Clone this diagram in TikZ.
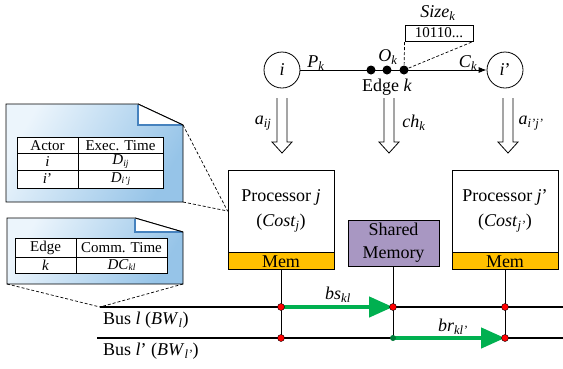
\documentclass[tikz,border=0pt]{standalone}
\usepackage{fontspec}
\setmainfont{Liberation Serif}
\usetikzlibrary{arrows.meta}
\definecolor{memc}{RGB}{255,192,0}
\definecolor{shmc}{RGB}{168,151,194}
\definecolor{grn}{RGB}{0,176,80}
\definecolor{cl}{RGB}{236,245,252}
\definecolor{cd}{RGB}{150,196,232}
\definecolor{cb}{RGB}{70,130,190}
\newcommand\sbs[1]{\textsubscript{\itshape #1}}
\newcommand\tsbs[1]{\raisebox{-0.12em}{\fontsize{9.5}{9.5}\selectfont\itshape #1}}
\begin{document}
\begin{tikzpicture}[x=1pt,y=-1pt,
  txt/.style={font=\fontsize{18}{23}\selectfont, inner sep=0pt},
  tab/.style={font=\fontsize{15}{16}\selectfont, inner sep=0pt},
  actor/.style={circle, draw, minimum size=36pt, inner sep=0pt, line width=0.8pt, font=\fontsize{18}{20}\selectfont},
  edot/.style={circle, fill=black, minimum size=9pt, inner sep=0pt},
  rdot/.style={circle, fill=red, draw=black, line width=0.4pt, minimum size=7pt, inner sep=0pt},
  busline/.style={line width=2pt},
  garrow/.style={draw=grn, line width=4.5pt, -{Triangle[length=24pt,width=20pt]}},
  dashl/.style={line width=0.7pt, dash pattern=on 3pt off 2pt},
  procbox/.style={draw, line width=0.9pt, minimum width=106pt, minimum height=82pt, inner sep=0pt, align=center, font=\fontsize{18}{25}\selectfont},
  membox/.style={draw, fill=memc, line width=0.9pt, minimum width=106pt, minimum height=17pt, inner sep=0pt, font=\fontsize{18}{20}\selectfont},
  callout/.style={draw, line width=0.9pt, left color=cl, right color=cd, shading angle=60},
  fold/.style={fill=white},
  tabline/.style={line width=0.9pt}
]
\useasboundingbox (0,0) rectangle (563,368);

% ---------- top graph ----------
\node[actor] (ni) at (282,70) {\textit{i}};
\node[actor] (nj) at (505,70) {\textit{i}’};
\draw[line width=0.8pt, -{Latex[length=8pt,width=6pt]}] (ni) -- (nj);
\node[edot] (d1) at (371,70) {};
\node[edot] (d2) at (387,70) {};
\node[edot] (d3) at (404,70) {};
\node[draw, line width=0.8pt, fill=white, minimum width=68pt, minimum height=16pt, inner sep=0pt, font=\fontsize{15}{16}\selectfont] (sz) at (439,33) {10110...};
\draw[dashl] (d3.center) -- (sz.south west);
\draw[dashl] (d3.center) -- (sz.south east);
\node[txt] (lsz) at (438,13) {\textit{Size}\sbs{k}};
\node[txt] (lp) at (316,63) {\textit{P}\sbs{k}};
\node[txt] (lo) at (388,57) {\textit{O}\sbs{k}};
\node[txt] (lc) at (468,63) {\textit{C}\sbs{k}};
\node[txt] (le) at (387,87) {Edge \textit{k}};

% ---------- hollow arrows ----------
\foreach \x in {282,389,508} {
  \draw[line width=0.8pt, fill=white] (\x-5,98) -- (\x-5,142) -- (\x-10,142) -- (\x,153) -- (\x+10,142) -- (\x+5,142) -- (\x+5,98);
}
\node[txt] (la1) at (263,123) {\textit{a}\sbs{ij}};
\node[txt] (la2) at (414,123) {\textit{ch}\sbs{k}};
\node[txt] (la3) at (531,123) {\textit{a}\sbs{i’j’}};

% ---------- processors ----------
\node[procbox] (pj) at (281,211) {Processor \textit{j}\\(\textit{Cost}\sbs{j})};
\node[membox, anchor=north] (mj) at (pj.south) {Mem};
\node[procbox] (pk) at (505,211) {Processor \textit{j}’\\(\textit{Cost}\sbs{j’})};
\node[membox, anchor=north] (mk) at (pk.south) {Mem};
\node[draw, fill=shmc, line width=0.9pt, minimum width=91pt, minimum height=46pt, inner sep=0pt, align=center, font=\fontsize{18}{23}\selectfont] (sm) at (393.5,243) {Shared\\Memory};

% ---------- buses ----------
\coordinate (bl0) at (100,307);
\coordinate (bl1) at (563,307);
\coordinate (bm0) at (97,338);
\coordinate (bm1) at (563,338);
\draw[busline] (bl0) -- (bl1);
\draw[busline] (bm0) -- (bm1);
\coordinate (r1) at (281,307);
\coordinate (r2) at (393,307);
\coordinate (r3) at (505,307);
\coordinate (r4) at (281,338);
\coordinate (r5) at (393,338);
\coordinate (r6) at (505,338);
\draw[line width=0.8pt] (mj.south) -- (r4);
\draw[line width=0.8pt] (sm.south -| r5) -- (r5);
\draw[line width=0.8pt] (mk.south) -- (r6);
\draw[garrow] (r1) -- (r2);
\draw[garrow] (r5) -- (r6);
\node[rdot] (rd1) at (r1) {};
\node[rdot] (rd2) at (r2) {};
\node[rdot] (rd3) at (r3) {};
\node[rdot] (rd4) at (r4) {};
\node[circle, fill=grn!70!black, minimum size=6pt, inner sep=0pt] (rd5) at (r5) {};
\node[rdot] (rd6) at (r6) {};
\node[txt] (lbs) at (338,295) {\textit{bs}\sbs{kl}};
\node[txt] (lbr) at (453,327) {\textit{br}\sbs{kl’}};
\node[txt, anchor=west] (lbus1) at (103,320) {Bus \textit{l} (\textit{BW}\sbs{l})};
\node[txt, anchor=west] (lbus2) at (103,351) {Bus \textit{l}’ (\textit{BW}\sbs{l’})};

% ---------- callout 1 ----------
\path[callout] (6,104) -- (138,104) -- (183,125) -- (183,202) -- (6,202) -- cycle;
\fill[fold] (138,104) -- (183,125) -- (138,125) -- cycle;
\draw[cb, line width=2pt] (138,105) -- (138,125) -- (182,125);
\draw[line width=0.9pt] (138,104) -- (183,125);
\coordinate (c1a) at (183,125);
\coordinate (c1b) at (183,202);
\draw[dashl] (c1a) -- (pj.west);
\draw[dashl] (c1b) -- (pj.west);
\fill[white] (17,137) rectangle (163,188);
\draw[tabline] (17,137) rectangle (163,188);
\draw[tabline] (17,153) -- (163,153) (17,170) -- (163,170) (78,137) -- (78,188);
\node[tab] (t11) at (47.5,145.5) {Actor};
\node[tab] (t12) at (120.5,145.5) {Exec. Time};
\node[tab] (t21) at (47.5,161.5) {\textit{i}};
\node[tab] (t22) at (120.5,161.5) {\textit{D}\tsbs{ij}};
\node[tab] (t31) at (47.5,179) {\textit{i}’};
\node[tab] (t32) at (120.5,179) {\textit{D}\tsbs{i’j}};

% ---------- callout 2 ----------
\path[callout] (7,218) -- (135,218) -- (183,232) -- (183,284) -- (7,284) -- cycle;
\fill[fold] (135,218) -- (183,232) -- (135,232) -- cycle;
\draw[cb, line width=2pt] (135,219) -- (135,232) -- (182,232);
\draw[line width=0.9pt] (135,218) -- (183,232);
\coordinate (c2a) at (7,284);
\coordinate (c2b) at (183,284);
\draw[dashl] (c2a) -- (bl0);
\draw[dashl] (c2b) -- (bl0);
\fill[white] (15,238) rectangle (167,273);
\draw[tabline] (15,238) rectangle (167,273);
\draw[tabline] (15,257) -- (167,257) (76,238) -- (76,273);
\node[tab] (u11) at (45.5,248) {Edge};
\node[tab] (u12) at (121.5,248) {Comm. Time};
\node[tab] (u21) at (45.5,265) {\textit{k}};
\node[tab] (u22) at (121.5,265) {\textit{DC}\tsbs{kl}};
\end{tikzpicture}
\end{document}
